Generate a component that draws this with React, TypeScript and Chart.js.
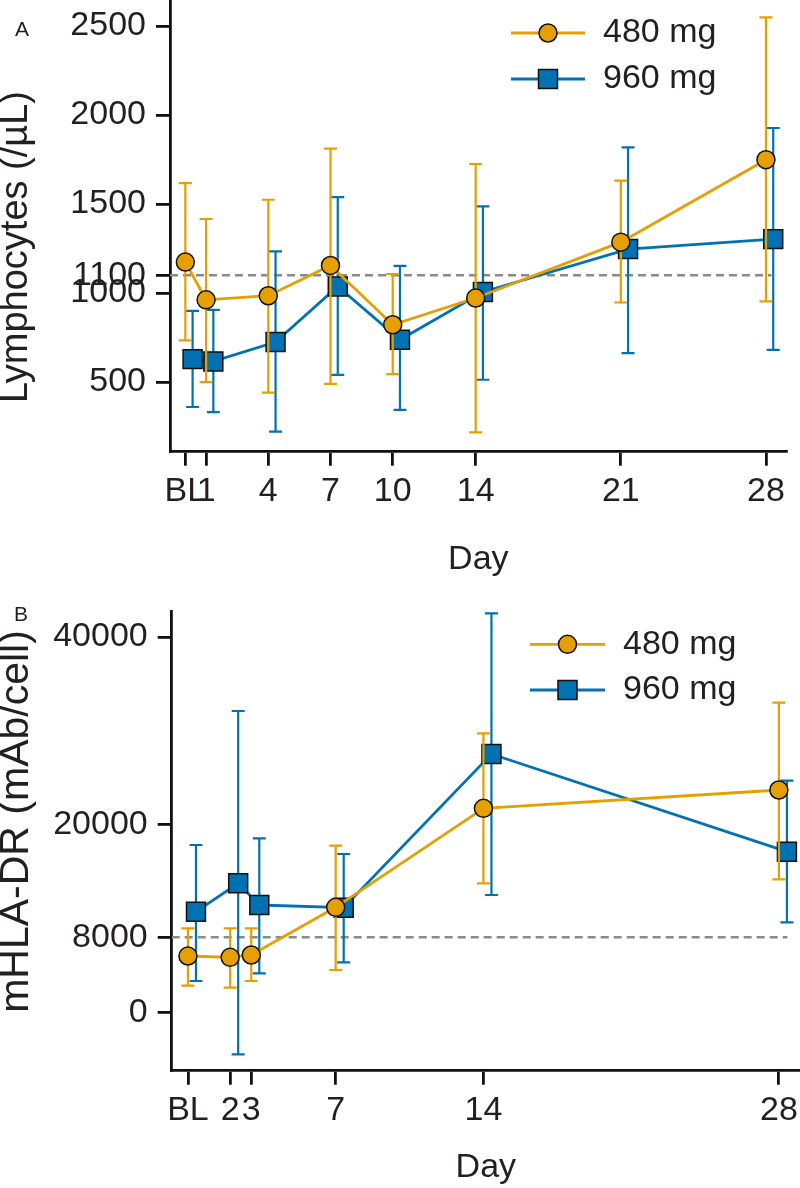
import React, { useEffect, useRef } from 'react';
import { Chart, registerables } from 'chart.js';

Chart.register(...registerables);

const FONT = '"Liberation Sans", Arial, Helvetica, sans-serif';
const ORANGE = '#E69F00';
const BLUE = '#0072B2';
const TEXT = '#231F20';
const AXIS = '#111111';
const REF = '#8A8A8A';

const seriesLabels = ['480 mg', '960 mg'];

// ---------- Panel A: Lymphocytes ----------
const daysA = [0, 1, 4, 7, 10, 14, 21, 28];
const dayTickLabelsA = ['BL', '1', '4', '7', '10', '14', '21', '28'];
const lymph480Mean = [1174, 962, 985, 1155, 822, 972, 1286, 1749];
const lymph480Upper = [1618, 1416, 1524, 1811, 1107, 1725, 1631, 2548];
const lymph480Lower = [734, 500, 441, 490, 545, 217, 947, 953];
const lymph960Mean = [629, 616, 725, 1037, 738, 1006, 1247, 1303];
const lymph960Upper = [900, 906, 1234, 1539, 1153, 1487, 1818, 1927];
const lymph960Lower = [360, 331, 222, 541, 344, 513, 663, 681];
const yTicksA = [500, 1000, 1100, 1500, 2000, 2500];
const refValueA = 1100;

// ---------- Panel B: mHLA-DR ----------
const daysB = [0, 2, 3, 7, 14, 28];
const dayTickLabelsB = ['BL', '2', '3', '7', '14', '28'];
const hla480Mean = [6000, 5860, 6109, 11194, 21748, 23700];
const hla480Upper = [8955, 8955, 8955, 17761, 29744, 33006];
const hla480Lower = [2836, 2623, 3337, 4510, 13753, 14179];
const hla960Mean = [10725, 13753, 11439, 11151, 27537, 17122];
const hla960Upper = [17836, 32122, 18550, 16876, 42537, 24691];
const hla960Lower = [3337, -4478, 4158, 5330, 12505, 9595];
const yTicksB = [0, 8000, 20000, 40000];
const refValueB = 8000;

type Panel = {
  days: number[];
  tickLabels: string[];
  m480: number[]; hi480: number[]; lo480: number[];
  m960: number[]; hi960: number[]; lo960: number[];
  yTicks: number[];
  ref: number; refEnd: number;
  xMin: number; xMax: number; yMin: number; yMax: number;
  dodge: number;
  yTitle: string; yTitleX: number; yTitleY: number; yTitleSize: number;
  letter: string; letterX: number; letterY: number;
  legendY: number[]; legendX0: number; legendX1: number; legendTextX: number;
  padding: { left: number; right: number; top: number; bottom: number };
  yAxisWidth: number; xAxisHeight: number;
  width: number; height: number; top: number;
};

const panelA: Panel = {
  days: daysA, tickLabels: dayTickLabelsA,
  m480: lymph480Mean, hi480: lymph480Upper, lo480: lymph480Lower,
  m960: lymph960Mean, hi960: lymph960Upper, lo960: lymph960Lower,
  yTicks: yTicksA, ref: refValueA, refEnd: 28.27,
  xMin: -0.74, xMax: 29.0, yMin: 109, yMax: 2646,
  dodge: 0.35,
  yTitle: 'Lymphocytes (/µL)', yTitleX: 16.7, yTitleY: 247, yTitleSize: 38,
  letter: 'A', letterX: 22, letterY: 30,
  legendY: [33, 79], legendX0: 511, legendX1: 585, legendTextX: 603,
  padding: { left: 0, right: 13.3, top: 0, bottom: 0 },
  yAxisWidth: 170, xAxisHeight: 128.3,
  width: 800, height: 580, top: 0,
};

const panelB: Panel = {
  days: daysB, tickLabels: dayTickLabelsB,
  m480: hla480Mean, hi480: hla480Upper, lo480: hla480Lower,
  m960: hla960Mean, hi960: hla960Upper, lo960: hla960Lower,
  yTicks: yTicksB, ref: refValueB, refEnd: 28.4,
  xMin: -0.77, xMax: 29.0, yMin: -6226, yMax: 42708,
  dodge: 0.38,
  yTitle: 'mHLA-DR (mAb/cell)', yTitleX: 16.5, yTitleY: 241.5, yTitleSize: 41,
  letter: 'B', letterX: 21, letterY: 35,
  legendY: [64.3, 110], legendX0: 530, legendX1: 605, legendTextX: 623,
  padding: { left: 0, right: 0, top: 31.7, bottom: 0 },
  yAxisWidth: 171.7, xAxisHeight: 117.3,
  width: 800, height: 608, top: 580,
};

function drawMarker(ctx: CanvasRenderingContext2D, style: string, x: number, y: number, fill: string) {
  ctx.save();
  ctx.fillStyle = fill;
  ctx.strokeStyle = AXIS;
  ctx.lineWidth = 1.5;
  ctx.beginPath();
  if (style === 'circle') {
    ctx.arc(x, y, 9, 0, Math.PI * 2);
  } else {
    ctx.rect(x - 9.5, y - 9.5, 19, 19);
  }
  ctx.fill();
  ctx.stroke();
  ctx.restore();
}

function makeExtras(p: Panel) {
  return {
    id: 'panelExtras',
    beforeDatasetDraw(chart: any, args: any) {
      const ds = chart.data.datasets[args.index];
      if (!ds.errHigh) return;
      const xs = chart.scales.x;
      const ys = chart.scales.y;
      const ctx: CanvasRenderingContext2D = chart.ctx;
      ctx.save();
      ctx.strokeStyle = ds.borderColor;
      ctx.lineWidth = 2.2;
      ds.data.forEach((pt: any, i: number) => {
        const px = xs.getPixelForValue(pt.x);
        const top = ys.getPixelForValue(ds.errHigh[i]);
        const bot = ys.getPixelForValue(ds.errLow[i]);
        ctx.beginPath();
        ctx.moveTo(px, top);
        ctx.lineTo(px, bot);
        ctx.moveTo(px - 6.5, top);
        ctx.lineTo(px + 6.5, top);
        ctx.moveTo(px - 6.5, bot);
        ctx.lineTo(px + 6.5, bot);
        ctx.stroke();
      });
      ctx.restore();
    },
    afterDraw(chart: any) {
      const ctx: CanvasRenderingContext2D = chart.ctx;
      // panel letter
      ctx.save();
      ctx.fillStyle = TEXT;
      ctx.font = `21px ${FONT}`;
      ctx.textAlign = 'center';
      ctx.textBaseline = 'middle';
      ctx.fillText(p.letter, p.letterX, p.letterY);
      ctx.restore();
      // y title
      ctx.save();
      ctx.fillStyle = TEXT;
      ctx.font = `${p.yTitleSize}px ${FONT}`;
      ctx.textAlign = 'center';
      ctx.textBaseline = 'middle';
      ctx.translate(p.yTitleX, p.yTitleY);
      ctx.rotate(-Math.PI / 2);
      ctx.fillText(p.yTitle, 0, 0);
      ctx.restore();
      // legend
      const series = chart.data.datasets.filter((d: any) => d.errHigh);
      series.forEach((ds: any, i: number) => {
        const y = p.legendY[i];
        ctx.save();
        ctx.strokeStyle = ds.borderColor;
        ctx.lineWidth = 2.8;
        ctx.beginPath();
        ctx.moveTo(p.legendX0, y);
        ctx.lineTo(p.legendX1, y);
        ctx.stroke();
        ctx.restore();
        drawMarker(ctx, ds.pointStyle, (p.legendX0 + p.legendX1) / 2, y, ds.pointBackgroundColor);
        ctx.save();
        ctx.fillStyle = TEXT;
        ctx.font = `34px ${FONT}`;
        ctx.textAlign = 'left';
        ctx.textBaseline = 'middle';
        ctx.fillText(ds.label, p.legendTextX, y);
        ctx.restore();
      });
    },
  };
}

function buildConfig(p: Panel): any {
  const orange = {
    label: seriesLabels[0],
    data: p.days.map((d, i) => ({ x: d, y: p.m480[i] })),
    errHigh: p.hi480,
    errLow: p.lo480,
    borderColor: ORANGE,
    backgroundColor: ORANGE,
    borderWidth: 2.8,
    pointStyle: 'circle',
    pointRadius: 9,
    pointBackgroundColor: ORANGE,
    pointBorderColor: AXIS,
    pointBorderWidth: 1.5,
    tension: 0,
    order: 1,
    clip: false,
  };
  const blue = {
    label: seriesLabels[1],
    data: p.days.map((d, i) => ({ x: d + p.dodge, y: p.m960[i] })),
    errHigh: p.hi960,
    errLow: p.lo960,
    borderColor: BLUE,
    backgroundColor: BLUE,
    borderWidth: 2.8,
    pointStyle: 'rect',
    pointRadius: 13.4,
    pointBackgroundColor: BLUE,
    pointBorderColor: AXIS,
    pointBorderWidth: 1.5,
    tension: 0,
    order: 2,
    clip: false,
  };
  const ref = {
    label: 'reference',
    data: [{ x: p.xMin, y: p.ref }, { x: p.refEnd, y: p.ref }],
    borderColor: REF,
    borderWidth: 2.5,
    borderDash: [8, 5],
    pointRadius: 0,
    order: 3,
  };
  const tickFont = { family: FONT, size: 34 };
  return {
    type: 'line',
    data: { datasets: [orange, blue, ref] },
    options: {
      responsive: false,
      animation: false,
      devicePixelRatio: 1,
      layout: { padding: p.padding, autoPadding: false },
      plugins: { legend: { display: false }, tooltip: { enabled: false } },
      scales: {
        x: {
          type: 'linear',
          position: 'bottom',
          min: p.xMin,
          max: p.xMax,
          afterBuildTicks: (s: any) => {
            s.ticks = p.days.map((v) => ({ value: v }));
          },
          afterFit: (s: any) => {
            s.height = p.xAxisHeight;
            s.paddingLeft = 0;
            s.paddingRight = 0;
          },
          ticks: {
            autoSkip: false,
            maxRotation: 0,
            minRotation: 0,
            padding: 6,
            color: TEXT,
            font: tickFont,
            callback: (_v: any, i: number) => p.tickLabels[i],
          },
          grid: {
            display: true,
            drawOnChartArea: false,
            drawTicks: true,
            tickLength: 14,
            color: AXIS,
            lineWidth: 2.8,
          },
          border: { display: true, color: AXIS, width: 2.8 },
          title: {
            display: true,
            text: 'Day',
            color: TEXT,
            font: { family: FONT, size: 34, lineHeight: 1.2 },
            padding: { top: 0, bottom: 0 },
          },
        },
        y: {
          type: 'linear',
          position: 'left',
          min: p.yMin,
          max: p.yMax,
          afterBuildTicks: (s: any) => {
            s.ticks = p.yTicks.map((v) => ({ value: v }));
          },
          afterFit: (s: any) => {
            s.width = p.yAxisWidth;
            s.paddingTop = 0;
            s.paddingBottom = 0;
          },
          ticks: {
            autoSkip: false,
            padding: 10,
            color: TEXT,
            font: tickFont,
            callback: (v: any) => String(v),
          },
          grid: {
            display: true,
            drawOnChartArea: false,
            drawTicks: true,
            tickLength: 14,
            color: AXIS,
            lineWidth: 2.8,
          },
          border: { display: true, color: AXIS, width: 2.8 },
          title: { display: false },
        },
      },
    },
    plugins: [makeExtras(p)],
  };
}

function PanelChart({ panel }: { panel: Panel }) {
  const ref = useRef<HTMLCanvasElement | null>(null);
  useEffect(() => {
    if (!ref.current) return;
    const chart = new Chart(ref.current, buildConfig(panel));
    return () => chart.destroy();
  }, [panel]);
  return (
    <canvas
      ref={ref}
      width={panel.width}
      height={panel.height}
      style={{
        position: 'absolute',
        left: 0,
        top: panel.top,
        width: panel.width,
        height: panel.height,
        display: 'block',
      }}
    />
  );
}

export default function App() {
  return (
    <div
      style={{
        position: 'absolute',
        left: 0,
        top: 0,
        width: 800,
        height: 1188,
        background: '#ffffff',
        overflow: 'hidden',
      }}
    >
      <PanelChart panel={panelA} />
      <PanelChart panel={panelB} />
    </div>
  );
}
